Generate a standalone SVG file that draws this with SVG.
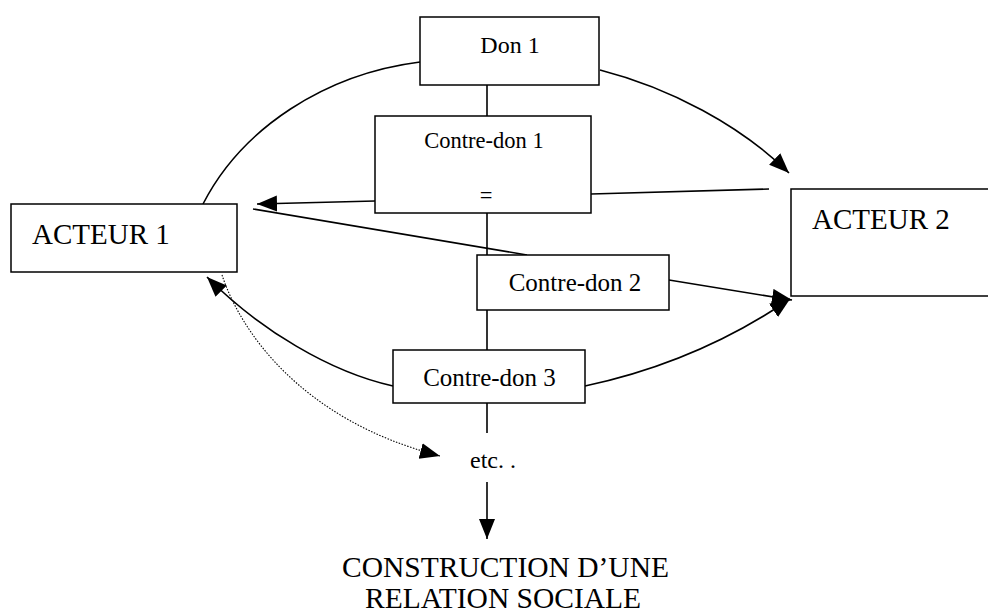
<svg xmlns="http://www.w3.org/2000/svg" width="988" height="611" viewBox="0 0 988 611">
<defs>
<style>
.box{fill:#fff;stroke:#000;stroke-width:1.5}
.ln{fill:none;stroke:#000;stroke-width:1.6}
.dot{fill:none;stroke:#000;stroke-width:1.1;stroke-dasharray:1.5 1.5}
text{font-family:"Liberation Serif","Times New Roman",serif;fill:#000}
</style>
<marker id="ah" markerUnits="userSpaceOnUse" markerWidth="22" markerHeight="18" refX="20" refY="8" orient="auto">
<path d="M0,0 L20,8 L0,16 z" fill="#000"/>
</marker>
</defs>
<rect width="988" height="611" fill="#fff"/>
<g id="connectors">
<line class="ln" x1="487" y1="85" x2="487" y2="433"/>
<line class="ln" x1="487" y1="482" x2="487" y2="539" marker-end="url(#ah)"/>
<path class="ln" d="M420,62 C325,74 242,128 203,204"/>
<path class="ln" d="M600,70 C670,88 740,125 789,173" marker-end="url(#ah)"/>
<line class="ln" x1="375" y1="201" x2="257" y2="204" marker-end="url(#ah)"/>
<line class="ln" x1="591" y1="194" x2="769" y2="189"/>
<line class="ln" x1="527" y1="255" x2="253" y2="209"/>
<line class="ln" x1="669" y1="280" x2="792" y2="300" marker-end="url(#ah)"/>
<path class="ln" d="M585,386 C660,370 730,340 790,299" marker-end="url(#ah)"/>
<path class="ln" d="M393,386 C330,372 260,330 207,277" marker-end="url(#ah)"/>
<path class="dot" d="M222,275 C240,330 300,420 440,456" marker-end="url(#ah)"/>
</g>
<g id="don1">
<rect class="box" x="420" y="17" width="179" height="68"/>
<text x="510" y="53" font-size="24" text-anchor="middle">Don 1</text>
</g>
<g id="contredon1">
<rect class="box" x="375" y="116" width="216" height="97"/>
<text x="484" y="148" font-size="22.5" text-anchor="middle">Contre-don 1</text>
<text x="486" y="203" font-size="22.5" text-anchor="middle">=</text>
</g>
<g id="acteur1">
<rect class="box" x="11" y="204" width="226" height="68"/>
<text x="32" y="244" font-size="29">ACTEUR 1</text>
</g>
<g id="acteur2">
<rect class="box" x="791" y="189" width="220" height="107"/>
<text x="812" y="229" font-size="29">ACTEUR 2</text>
</g>
<g id="contredon2">
<rect class="box" x="477" y="255" width="192" height="55"/>
<text x="575" y="291" font-size="25" text-anchor="middle">Contre-don 2</text>
</g>
<g id="contredon3">
<rect class="box" x="393" y="350" width="192" height="53"/>
<text x="489.5" y="386" font-size="25" text-anchor="middle">Contre-don 3</text>
</g>
<g id="etc">
<text x="470" y="468" font-size="24">etc. .</text>
</g>
<g id="construction">
<text x="342" y="577" font-size="29.5">CONSTRUCTION D’UNE</text>
<text x="365" y="608" font-size="29.5">RELATION SOCIALE</text>
</g>
</svg>
